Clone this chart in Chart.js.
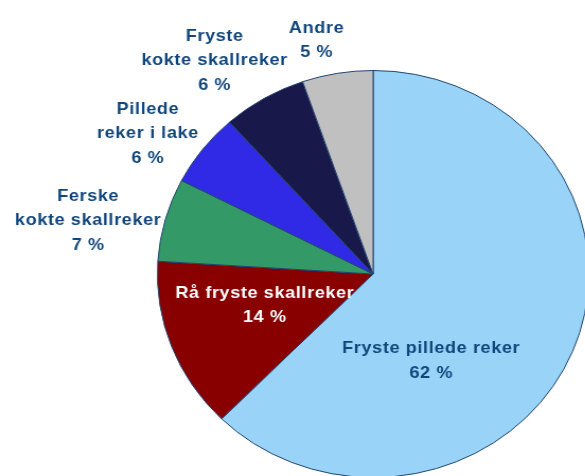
<!DOCTYPE html>
<html>
<head>
<meta charset="utf-8">
<script src="https://cdn.jsdelivr.net/npm/chart.js@4/dist/chart.umd.min.js"></script>
<style>
  html, body { margin: 0; padding: 0; background: #fff; overflow: hidden; }
  #pie { display: block; transform: scaleX(1.06); transform-origin: 0 0; }
</style>
</head>
<body>
<canvas id="pie" width="570" height="500"></canvas>
<script>
// Data (share in %)
const categories = [
  ['Fryste pillede reker'],
  ['Rå fryste skallreker'],
  ['Ferske', 'kokte skallreker'],
  ['Pillede', 'reker i lake'],
  ['Fryste', 'kokte skallreker'],
  ['Andre']
];
const shares = [62.4, 13.6, 6.6, 5.8, 6.3, 5.3];

const sliceColors = ['#99d3f7', '#880000', '#339966', '#3029e6', '#19184a', '#c0c0c0'];
const textColors = ['#10467c', '#ffffff', '#10467c', '#10467c', '#10467c', '#10467c'];
// label placement: [angle shift from slice middle in degrees, fraction of radius]
const labelPlace = [[35.4, 0.504], [3.9, 0.525], [-4.2, 1.347], [-4.3, 1.252], [-4.6, 1.28], [-3.3, 1.179]];

const ctx = document.getElementById('pie').getContext('2d');

// draws the category name + percent for every slice
const sliceLabels = {
  id: 'sliceLabels',
  afterDatasetsDraw(chart) {
    const c = chart.ctx;
    const arcs = chart.getDatasetMeta(0).data;
    c.save();
    c.font = 'bold 17px "Liberation Sans", Arial, sans-serif';
    c.letterSpacing = '0.6px';
    c.textAlign = 'center';
    c.textBaseline = 'middle';
    arcs.forEach(function(arc, i) {
      const mid = (arc.startAngle + arc.endAngle) / 2 + labelPlace[i][0] * Math.PI / 180;
      const r = arc.outerRadius * labelPlace[i][1];
      const x = arc.x + Math.cos(mid) * r;
      const y = arc.y + Math.sin(mid) * r;
      const lines = categories[i].concat([Math.round(shares[i]) + ' %']);
      const lh = 24.5;
      c.fillStyle = textColors[i];
      lines.forEach(function(t, k) {
        c.fillText(t, x, y + (k - (lines.length - 1) / 2) * lh);
      });
    });
    c.restore();
  }
};

const myPie = new Chart(ctx, {
  type: 'pie',
  data: {
    labels: categories,
    datasets: [{
      data: shares,
      backgroundColor: sliceColors,
      borderColor: '#22456f',
      borderWidth: 1,
      hoverOffset: 0,
      offset: 0
    }]
  },
  options: {
    responsive: false,
    devicePixelRatio: 1,
    animation: false,
    layout: { padding: { left: 148, right: 14, top: 70, bottom: 22 } },
    plugins: {
      legend: { display: false },
      tooltip: { enabled: false }
    },
    hover: { mode: null }
  },
  plugins: [sliceLabels]
});
</script>
</body>
</html>
